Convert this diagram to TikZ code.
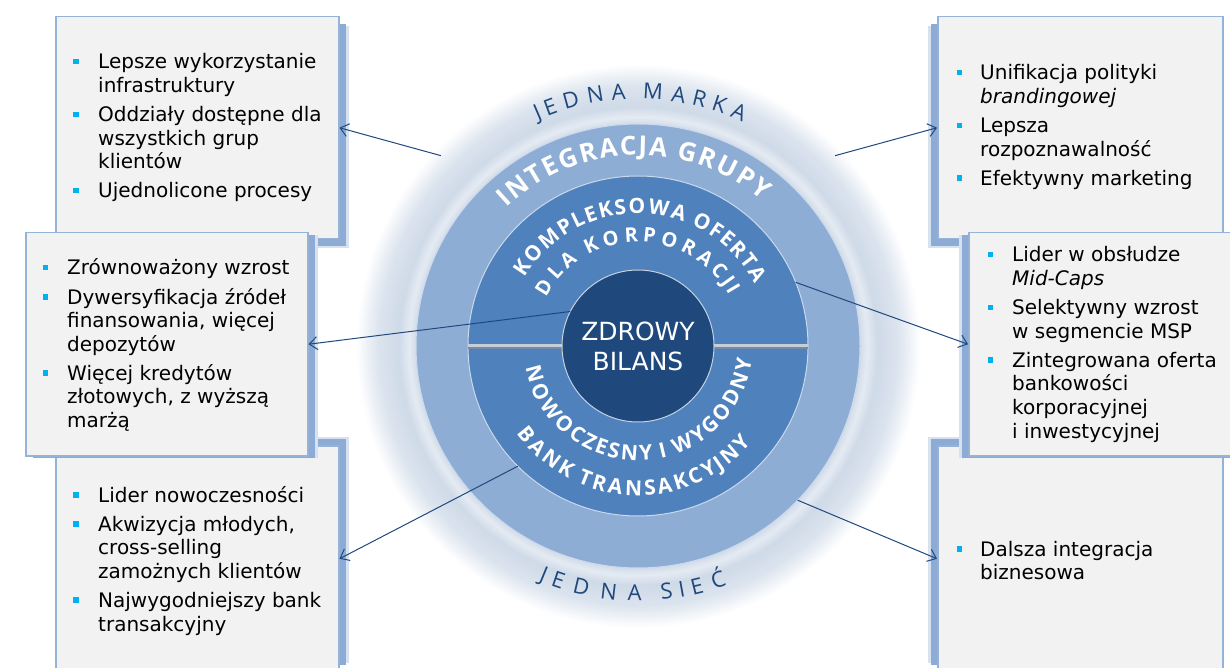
\documentclass[tikz,border=0pt]{standalone}
\usepackage{fontspec}
\setmainfont{DejaVu Sans}
\newfontfamily\arcfont{Open Sans}
\usetikzlibrary{arrows.meta,calc,decorations.text,shadows}

\definecolor{glowc}{RGB}{207,218,232}
\definecolor{midring}{RGB}{142,173,213}
\definecolor{innring}{RGB}{79,129,189}
\definecolor{corec}{RGB}{31,73,125}
\definecolor{arrowc}{RGB}{31,73,125}
\definecolor{boxfill}{RGB}{242,242,242}
\definecolor{boxline}{RGB}{149,179,215}
\definecolor{shadowc}{RGB}{141,171,212}
\definecolor{bulletc}{RGB}{0,176,240}
\definecolor{sepc}{RGB}{198,206,218}
\definecolor{sepdark}{RGB}{118,138,168}

\pgfdeclareradialshading{glowshade}{\pgfpoint{0bp}{0bp}}{color(0bp)=(glowc); color(19.6bp)=(glowc); color(20.3bp)=(glowc!55!white); color(21.2bp)=(glowc); color(23bp)=(glowc!75!white); color(25bp)=(white); color(50bp)=(white)}

\tikzset{
  box/.style={draw=boxline, line width=1.5pt, fill=boxfill, inner sep=0pt, anchor=north west},
  lshadow/.style={general shadow={fill=shadowc!35, shadow xshift=10pt, shadow yshift=#1*1.3}, general shadow={fill=shadowc, shadow xshift=7pt, shadow yshift=#1}},
  rshadow/.style={general shadow={fill=shadowc!35, shadow xshift=-10pt, shadow yshift=#1*1.3}, general shadow={fill=shadowc, shadow xshift=-7pt, shadow yshift=#1}},
  ring/.style={circle, inner sep=0pt, outer sep=0pt},
  conn/.style={draw=arrowc, line width=1pt, -{Straight Barb[length=8pt,width=13pt]}},
  boxtxt/.style={inner sep=0pt, anchor=base west, font=\fontsize{20}{23.6}\selectfont},
  arctext/.style 2 args={decorate, decoration={text effects along path, text={#1},
      text effects/.cd, text along path, fit text to path, characters={#2}}}
}
\newcommand{\blt}{\textcolor{bulletc}{\rule[4.5pt]{5.5pt}{5.5pt}}}

\begin{document}
\begin{tikzpicture}[x=1pt, y=1pt]
    \useasboundingbox (0,0) rectangle (1230,667);
    \coordinate (c) at (638,321);

    \node[box, lshadow=-7pt, minimum width=283pt, minimum height=222pt] (lt) at (55,651) {};
    \node[box, lshadow=7pt, minimum width=283pt, minimum height=226pt] (lb) at (55,222) {};
    \node[box, lshadow=-2pt, minimum width=282pt, minimum height=223pt] (lm) at (25,435) {};
    \node[box, rshadow=-7pt, minimum width=285pt, minimum height=222pt] (rt) at (937,651) {};
    \node[box, rshadow=7pt, minimum width=285pt, minimum height=226pt] (rb) at (937,222) {};
    \node[box, rshadow=-2pt, minimum width=280pt, minimum height=223pt] (rm) at (968,435) {};

    \node[boxtxt] (lt-t) at (73,598) {\begin{tabular}[t]{@{}p{25pt}@{}l@{}}
        \blt & Lepsze wykorzystanie\\
             & infrastruktury\\[5.5pt]
        \blt & Oddziały dostępne dla\\
             & wszystkich grup\\
             & klientów\\[5.5pt]
        \blt & Ujednolicone procesy
      \end{tabular}};
    \node[boxtxt] (lm-t) at (42.5,392) {\begin{tabular}[t]{@{}p{24.5pt}@{}l@{}}
        \blt & Zrównoważony wzrost\\[5.5pt]
        \blt & Dywersyfikacja źródeł\\
             & finansowania, więcej\\
             & depozytów\\[5.5pt]
        \blt & Więcej kredytów\\
             & złotowych, z wyższą\\
             & marżą
      \end{tabular}};
    \node[boxtxt] (lb-t) at (73,165) {\begin{tabular}[t]{@{}p{25pt}@{}l@{}}
        \blt & Lider nowoczesności\\[5.5pt]
        \blt & Akwizycja młodych,\\
             & cross-selling\\
             & zamożnych klientów\\[5.5pt]
        \blt & Najwygodniejszy bank\\
             & transakcyjny
      \end{tabular}};
    \node[boxtxt] (rt-t) at (956.5,587) {\begin{tabular}[t]{@{}p{23.5pt}@{}l@{}}
        \blt & Unifikacja polityki\\
             & \textit{brandingowej}\\[5.5pt]
        \blt & Lepsza\\
             & rozpoznawalność\\[5.5pt]
        \blt & Efektywny marketing
      \end{tabular}};
    \node[boxtxt] (rm-t) at (987.5,405) {\begin{tabular}[t]{@{}p{24.5pt}@{}l@{}}
        \blt & Lider w obsłudze\\
             & \textit{Mid-Caps}\\[5.5pt]
        \blt & Selektywny wzrost\\
             & w segmencie MSP\\[5.5pt]
        \blt & Zintegrowana oferta\\
             & bankowości\\
             & korporacyjnej\\
             & i inwestycyjnej
      \end{tabular}};
    \node[boxtxt] (rb-t) at (956.5,111) {\begin{tabular}[t]{@{}p{23.5pt}@{}l@{}}
        \blt & Dalsza integracja\\
             & biznesowa
      \end{tabular}};

    \node[ring, minimum size=564pt, shade, shading=glowshade] (glow) at (c) {};
    \node[ring, minimum size=444pt, fill=midring, draw=white!55!midring, line width=1pt] (mid) at (c) {};
    \node[ring, minimum size=340pt, fill=innring, draw=white!70!innring, line width=1pt] (inner) at (c) {};
    \draw[line width=3pt, sepc] (inner.west) -- (inner.east);
    \draw[line width=1.2pt, sepdark] ([yshift=-2.1pt]inner.west) -- ([yshift=-2.1pt]inner.east);
    \node[ring, minimum size=152pt, fill=corec, draw=white!75!corec, line width=1pt, text=white,
      align=center, font=\fontsize{25}{30}\selectfont] (core) at (c) {ZDROWY\\BILANS};

    \path[arctext={JEDNA MARKA}{text=corec, font=\arcfont\fontsize{22}{22}\selectfont}]
      (c) ++(114:247) arc[start angle=114, end angle=65, radius=247];
    \path[arctext={JEDNA SIEĆ}{text=corec, font=\arcfont\fontsize{22}{22}\selectfont}]
      (c) ++(247:255) arc[start angle=247, end angle=290.5, radius=255];
    \path[arctext={INTEGRACJA GRUPY}{text=white, font=\arcfont\bfseries\fontsize{26}{26}\selectfont}]
      (c) ++(133.5:191) arc[start angle=133.5, end angle=49.5, radius=191];
    \path[arctext={KOMPLEKSOWA OFERTA}{text=white, font=\arcfont\bfseries\fontsize{21}{21}\selectfont}]
      (c) ++(149:132.5) arc[start angle=149, end angle=28, radius=132.5];
    \path[arctext={DLA KORPORACJI}{text=white, font=\arcfont\bfseries\fontsize{20}{20}\selectfont}]
      (c) ++(152:104) arc[start angle=152, end angle=29, radius=104];
    \path[arctext={NOWOCZESNY I WYGODNY}{text=white, font=\arcfont\bfseries\fontsize{21}{21}\selectfont}]
      (c) ++(191:114.5) arc[start angle=191, end angle=353, radius=114.5];
    \path[arctext={BANK TRANSAKCYJNY}{text=white, font=\arcfont\bfseries\fontsize{21}{21}\selectfont}]
      (c) ++(216:149.5) arc[start angle=216, end angle=319.5, radius=149.5];

    \coordinate (s1) at ($(c)+(136:274)$);
    \coordinate (s2) at ($(c)+(44:274)$);
    \draw[conn] (s1) -- (lt.east);
    \draw[conn] (s2) -- (rt.west);
    \draw[conn] (core.153) -- (lm.east);
    \draw[conn] (inner.22) -- (rm.west);
    \draw[conn] (inner.225) -- (lb.east);
    \draw[conn] (mid.316) -- (rb.west);
\end{tikzpicture}
\end{document}
